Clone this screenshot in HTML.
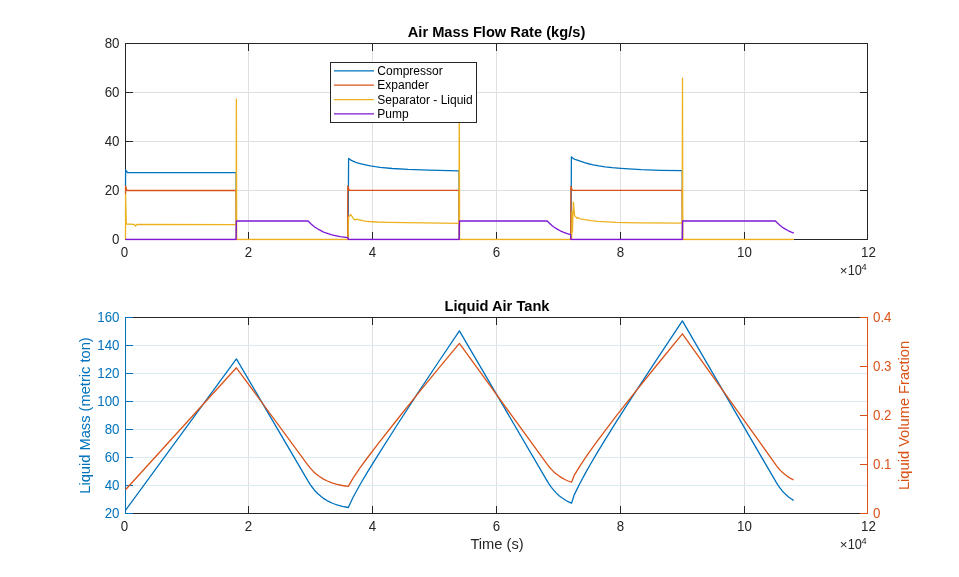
<!DOCTYPE html>
<html><head><meta charset="utf-8"><style>html,body{margin:0;padding:0;background:#fff;overflow:hidden}svg{display:block;will-change:transform}</style></head>
<body>
<svg width="959" height="577" viewBox="0 0 959 577">
<defs><clipPath id="c1"><rect x="124" y="43" width="745" height="197.5"/></clipPath><clipPath id="c2"><rect x="124" y="317" width="745" height="197.5"/></clipPath></defs>
<rect width="959" height="577" fill="#fff"/>
<line x1="248.5" y1="44" x2="248.5" y2="239" stroke="#DFDFDF"/>
<line x1="372.5" y1="44" x2="372.5" y2="239" stroke="#DFDFDF"/>
<line x1="496.5" y1="44" x2="496.5" y2="239" stroke="#DFDFDF"/>
<line x1="620.5" y1="44" x2="620.5" y2="239" stroke="#DFDFDF"/>
<line x1="744.5" y1="44" x2="744.5" y2="239" stroke="#DFDFDF"/>
<line x1="126" y1="190.5" x2="867" y2="190.5" stroke="#DFDFDF"/>
<line x1="126" y1="141.5" x2="867" y2="141.5" stroke="#DFDFDF"/>
<line x1="126" y1="92.5" x2="867" y2="92.5" stroke="#DFDFDF"/>
<rect x="125.5" y="43.5" width="742" height="196" fill="none" stroke="#262626" stroke-width="1"/>
<line x1="248.5" y1="44" x2="248.5" y2="51" stroke="#262626"/>
<line x1="248.5" y1="239" x2="248.5" y2="232" stroke="#262626"/>
<line x1="372.5" y1="44" x2="372.5" y2="51" stroke="#262626"/>
<line x1="372.5" y1="239" x2="372.5" y2="232" stroke="#262626"/>
<line x1="496.5" y1="44" x2="496.5" y2="51" stroke="#262626"/>
<line x1="496.5" y1="239" x2="496.5" y2="232" stroke="#262626"/>
<line x1="620.5" y1="44" x2="620.5" y2="51" stroke="#262626"/>
<line x1="620.5" y1="239" x2="620.5" y2="232" stroke="#262626"/>
<line x1="744.5" y1="44" x2="744.5" y2="51" stroke="#262626"/>
<line x1="744.5" y1="239" x2="744.5" y2="232" stroke="#262626"/>
<line x1="126" y1="190.5" x2="133" y2="190.5" stroke="#262626"/>
<line x1="867" y1="190.5" x2="860" y2="190.5" stroke="#262626"/>
<line x1="126" y1="141.5" x2="133" y2="141.5" stroke="#262626"/>
<line x1="867" y1="141.5" x2="860" y2="141.5" stroke="#262626"/>
<line x1="126" y1="92.5" x2="133" y2="92.5" stroke="#262626"/>
<line x1="867" y1="92.5" x2="860" y2="92.5" stroke="#262626"/>
<g clip-path="url(#c1)">
<path d="M125.5,186.0 L125.6,170.0 L127.5,172.6 L236.1,172.6 L236.4,239.5 M348.1,239.5 L348.6,158.5 L351.0,160.1 L353.5,161.4 L355.9,162.3 L358.3,163.1 L363.2,164.3 L370.4,165.9 L375.3,166.7 L380.1,167.3 L392.3,168.5 L408.0,169.4 L428.7,170.1 L459.0,170.9 L459.3,239.5 M571.0,239.5 L571.4,156.8 L572.6,158.0 L573.8,158.8 L575.0,159.3 L584.6,162.7 L589.5,164.0 L593.1,164.8 L599.1,165.9 L605.1,166.8 L612.3,167.6 L620.8,168.3 L641.3,169.6 L660.5,170.3 L682.2,170.7 L682.5,239.5" fill="none" stroke="#0072BD" stroke-width="1.3" stroke-linejoin="round"/>
<path d="M125.5,194.7 L125.6,186.0 L126.8,190.5 L236.1,190.5 L236.4,239.5 M347.7,239.5 L347.8,186.0 L349.2,190.4 L459.0,190.4 L459.3,239.5 M570.8,239.5 L570.9,186.3 L572.3,190.4 L682.2,190.4 L682.5,239.5" fill="none" stroke="#D95319" stroke-width="1.3" stroke-linejoin="round"/>
<path d="M125.5,239.5 L125.6,194.5 L126.3,224.0 L134.0,224.3 L135.5,226.0 L137.0,224.5 L236.1,224.6 L236.4,99.0 L236.7,239.5 L348.0,239.5 L348.5,217.2 L350.8,214.5 L352.9,217.9 L354.6,219.9 L356.9,219.2 L359.3,220.0 L362.9,220.7 L365.3,221.1 L368.9,221.5 L377.3,222.0 L388.1,222.3 L459.0,223.3 L459.3,90.0 L459.6,239.5 L571.0,239.5 L571.7,239.0 L571.9,212.0 L572.4,232.0 L573.4,202.1 L574.6,215.8 L576.0,217.0 L577.0,218.5 L578.0,217.6 L580.0,218.8 L584.8,219.7 L590.8,220.7 L598.0,221.3 L616.1,222.3 L625.7,222.6 L640.1,222.8 L682.2,223.2 L682.5,78.1 L682.8,239.5 L794.0,239.5" fill="none" stroke="#EDB120" stroke-width="1.3" stroke-linejoin="round"/>
<path d="M125.5,239.5 L236.1,239.5 L236.4,221.0 L308.1,221.0 L311.1,224.0 L313.1,225.7 L315.1,227.2 L317.1,228.5 L319.1,229.7 L323.1,231.8 L325.1,232.6 L328.1,233.7 L331.1,234.6 L334.1,235.4 L340.1,236.6 L347.9,237.7 L348.2,239.5 L459.2,239.5 L459.5,221.0 L547.2,221.0 L549.2,223.0 L552.2,225.7 L554.2,227.2 L557.2,229.1 L560.2,230.8 L563.2,232.2 L567.2,233.7 L570.6,234.7 L570.9,239.5 L682.3,239.5 L682.6,221.0 L775.4,221.0 L777.4,223.0 L779.4,224.8 L781.4,226.4 L783.4,227.9 L785.4,229.1 L788.4,230.8 L791.4,232.2 L793.8,233.1" fill="none" stroke="#7E16D4" stroke-width="1.3" stroke-linejoin="round"/>
</g>
<text x="119.5" y="244.30" text-anchor="end" font-size="13.9" textLength="7.41" lengthAdjust="spacingAndGlyphs" fill="#262626" font-family="Liberation Sans, sans-serif">0</text>
<text x="119.5" y="195.30" text-anchor="end" font-size="13.9" textLength="14.82" lengthAdjust="spacingAndGlyphs" fill="#262626" font-family="Liberation Sans, sans-serif">20</text>
<text x="119.5" y="146.30" text-anchor="end" font-size="13.9" textLength="14.82" lengthAdjust="spacingAndGlyphs" fill="#262626" font-family="Liberation Sans, sans-serif">40</text>
<text x="119.5" y="97.30" text-anchor="end" font-size="13.9" textLength="14.82" lengthAdjust="spacingAndGlyphs" fill="#262626" font-family="Liberation Sans, sans-serif">60</text>
<text x="119.5" y="48.30" text-anchor="end" font-size="13.9" textLength="14.82" lengthAdjust="spacingAndGlyphs" fill="#262626" font-family="Liberation Sans, sans-serif">80</text>
<text x="124.5" y="256.60" text-anchor="middle" font-size="13.9" textLength="7.41" lengthAdjust="spacingAndGlyphs" fill="#262626" font-family="Liberation Sans, sans-serif">0</text>
<text x="248.5" y="256.60" text-anchor="middle" font-size="13.9" textLength="7.41" lengthAdjust="spacingAndGlyphs" fill="#262626" font-family="Liberation Sans, sans-serif">2</text>
<text x="372.5" y="256.60" text-anchor="middle" font-size="13.9" textLength="7.41" lengthAdjust="spacingAndGlyphs" fill="#262626" font-family="Liberation Sans, sans-serif">4</text>
<text x="496.5" y="256.60" text-anchor="middle" font-size="13.9" textLength="7.41" lengthAdjust="spacingAndGlyphs" fill="#262626" font-family="Liberation Sans, sans-serif">6</text>
<text x="620.5" y="256.60" text-anchor="middle" font-size="13.9" textLength="7.41" lengthAdjust="spacingAndGlyphs" fill="#262626" font-family="Liberation Sans, sans-serif">8</text>
<text x="744.5" y="256.60" text-anchor="middle" font-size="13.9" textLength="14.82" lengthAdjust="spacingAndGlyphs" fill="#262626" font-family="Liberation Sans, sans-serif">10</text>
<text x="868.5" y="256.60" text-anchor="middle" font-size="13.9" textLength="14.82" lengthAdjust="spacingAndGlyphs" fill="#262626" font-family="Liberation Sans, sans-serif">12</text>
<text x="839.7" y="274.7" font-size="13.33" fill="#262626" font-family="Liberation Sans, sans-serif">&#215;</text><text x="847.7" y="274.7" font-size="13.9" textLength="14.2" lengthAdjust="spacingAndGlyphs" fill="#262626" font-family="Liberation Sans, sans-serif">10</text><text x="861.6" y="269.59999999999997" font-size="9.3" fill="#262626" font-family="Liberation Sans, sans-serif">4</text>
<text x="496.5" y="36.8" text-anchor="middle" font-size="14.67" font-weight="bold" fill="#000" font-family="Liberation Sans, sans-serif">Air Mass Flow Rate (kg/s)</text>
<rect x="330.5" y="62.5" width="146" height="60" fill="#fff" stroke="#262626" stroke-width="1"/>
<line x1="334" y1="70.9" x2="374" y2="70.9" stroke="#0072BD" stroke-width="1.3"/>
<text x="377.3" y="75.10" font-size="12" fill="#000" font-family="Liberation Sans, sans-serif">Compressor</text>
<line x1="334" y1="85.2" x2="374" y2="85.2" stroke="#D95319" stroke-width="1.3"/>
<text x="377.3" y="89.40" font-size="12" fill="#000" font-family="Liberation Sans, sans-serif">Expander</text>
<line x1="334" y1="99.6" x2="374" y2="99.6" stroke="#EDB120" stroke-width="1.3"/>
<text x="377.3" y="103.80" font-size="12" fill="#000" font-family="Liberation Sans, sans-serif">Separator - Liquid</text>
<line x1="334" y1="113.9" x2="374" y2="113.9" stroke="#7E16D4" stroke-width="1.3"/>
<text x="377.3" y="118.10" font-size="12" fill="#000" font-family="Liberation Sans, sans-serif">Pump</text>
<line x1="248.5" y1="318" x2="248.5" y2="513" stroke="#DFDFDF"/>
<line x1="372.5" y1="318" x2="372.5" y2="513" stroke="#DFDFDF"/>
<line x1="496.5" y1="318" x2="496.5" y2="513" stroke="#DFDFDF"/>
<line x1="620.5" y1="318" x2="620.5" y2="513" stroke="#DFDFDF"/>
<line x1="744.5" y1="318" x2="744.5" y2="513" stroke="#DFDFDF"/>
<line x1="126" y1="485.5" x2="867" y2="485.5" stroke="#D9EAF5"/>
<line x1="126" y1="457.5" x2="867" y2="457.5" stroke="#D9EAF5"/>
<line x1="126" y1="429.5" x2="867" y2="429.5" stroke="#D9EAF5"/>
<line x1="126" y1="401.5" x2="867" y2="401.5" stroke="#D9EAF5"/>
<line x1="126" y1="373.5" x2="867" y2="373.5" stroke="#D9EAF5"/>
<line x1="126" y1="345.5" x2="867" y2="345.5" stroke="#D9EAF5"/>
<line x1="125" y1="317.5" x2="868" y2="317.5" stroke="#262626"/>
<line x1="125" y1="513.5" x2="868" y2="513.5" stroke="#262626"/>
<line x1="125.5" y1="317" x2="125.5" y2="514" stroke="#0072BD"/>
<line x1="867.5" y1="317" x2="867.5" y2="514" stroke="#D95319"/>
<line x1="248.5" y1="318" x2="248.5" y2="325" stroke="#262626"/>
<line x1="248.5" y1="513" x2="248.5" y2="506" stroke="#262626"/>
<line x1="372.5" y1="318" x2="372.5" y2="325" stroke="#262626"/>
<line x1="372.5" y1="513" x2="372.5" y2="506" stroke="#262626"/>
<line x1="496.5" y1="318" x2="496.5" y2="325" stroke="#262626"/>
<line x1="496.5" y1="513" x2="496.5" y2="506" stroke="#262626"/>
<line x1="620.5" y1="318" x2="620.5" y2="325" stroke="#262626"/>
<line x1="620.5" y1="513" x2="620.5" y2="506" stroke="#262626"/>
<line x1="744.5" y1="318" x2="744.5" y2="325" stroke="#262626"/>
<line x1="744.5" y1="513" x2="744.5" y2="506" stroke="#262626"/>
<line x1="125" y1="317.5" x2="133" y2="317.5" stroke="#0072BD"/>
<line x1="125" y1="513.5" x2="133" y2="513.5" stroke="#0072BD"/>
<line x1="860" y1="317.5" x2="868" y2="317.5" stroke="#D95319"/>
<line x1="860" y1="513.5" x2="868" y2="513.5" stroke="#D95319"/>
<text x="119.5" y="518.30" text-anchor="end" font-size="13.9" textLength="14.82" lengthAdjust="spacingAndGlyphs" fill="#0072BD" font-family="Liberation Sans, sans-serif">20</text>
<line x1="126" y1="485.5" x2="133" y2="485.5" stroke="#0072BD"/>
<text x="119.5" y="490.30" text-anchor="end" font-size="13.9" textLength="14.82" lengthAdjust="spacingAndGlyphs" fill="#0072BD" font-family="Liberation Sans, sans-serif">40</text>
<line x1="126" y1="457.5" x2="133" y2="457.5" stroke="#0072BD"/>
<text x="119.5" y="462.30" text-anchor="end" font-size="13.9" textLength="14.82" lengthAdjust="spacingAndGlyphs" fill="#0072BD" font-family="Liberation Sans, sans-serif">60</text>
<line x1="126" y1="429.5" x2="133" y2="429.5" stroke="#0072BD"/>
<text x="119.5" y="434.30" text-anchor="end" font-size="13.9" textLength="14.82" lengthAdjust="spacingAndGlyphs" fill="#0072BD" font-family="Liberation Sans, sans-serif">80</text>
<line x1="126" y1="401.5" x2="133" y2="401.5" stroke="#0072BD"/>
<text x="119.5" y="406.30" text-anchor="end" font-size="13.9" textLength="22.23" lengthAdjust="spacingAndGlyphs" fill="#0072BD" font-family="Liberation Sans, sans-serif">100</text>
<line x1="126" y1="373.5" x2="133" y2="373.5" stroke="#0072BD"/>
<text x="119.5" y="378.30" text-anchor="end" font-size="13.9" textLength="22.23" lengthAdjust="spacingAndGlyphs" fill="#0072BD" font-family="Liberation Sans, sans-serif">120</text>
<line x1="126" y1="345.5" x2="133" y2="345.5" stroke="#0072BD"/>
<text x="119.5" y="350.30" text-anchor="end" font-size="13.9" textLength="22.23" lengthAdjust="spacingAndGlyphs" fill="#0072BD" font-family="Liberation Sans, sans-serif">140</text>
<text x="119.5" y="322.30" text-anchor="end" font-size="13.9" textLength="22.23" lengthAdjust="spacingAndGlyphs" fill="#0072BD" font-family="Liberation Sans, sans-serif">160</text>
<text x="873" y="518.40" font-size="13.9" textLength="7.41" lengthAdjust="spacingAndGlyphs" fill="#D95319" font-family="Liberation Sans, sans-serif">0</text>
<line x1="867" y1="464.5" x2="860" y2="464.5" stroke="#D95319"/>
<text x="873" y="469.40" font-size="13.9" textLength="18.53" lengthAdjust="spacingAndGlyphs" fill="#D95319" font-family="Liberation Sans, sans-serif">0.1</text>
<line x1="867" y1="415.5" x2="860" y2="415.5" stroke="#D95319"/>
<text x="873" y="420.40" font-size="13.9" textLength="18.53" lengthAdjust="spacingAndGlyphs" fill="#D95319" font-family="Liberation Sans, sans-serif">0.2</text>
<line x1="867" y1="366.5" x2="860" y2="366.5" stroke="#D95319"/>
<text x="873" y="371.40" font-size="13.9" textLength="18.53" lengthAdjust="spacingAndGlyphs" fill="#D95319" font-family="Liberation Sans, sans-serif">0.3</text>
<text x="873" y="322.40" font-size="13.9" textLength="18.53" lengthAdjust="spacingAndGlyphs" fill="#D95319" font-family="Liberation Sans, sans-serif">0.4</text>
<g clip-path="url(#c2)">
<path d="M125.5,510.3 L236.4,358.9 L308.1,481.1 L310.1,484.3 L312.4,487.5 L314.1,489.7 L315.9,491.7 L317.6,493.5 L319.4,495.1 L321.1,496.6 L323.1,498.1 L325.1,499.4 L327.4,500.8 L329.6,501.9 L331.9,503.0 L334.4,504.0 L336.9,504.8 L342.4,506.3 L348.3,507.5 L353.1,497.3 L359.8,485.0 L367.6,471.9 L378.6,454.1 L396.8,425.5 L417.3,393.9 L437.8,363.0 L459.4,330.9 L547.1,480.8 L549.1,484.1 L551.4,487.3 L553.9,490.4 L556.4,493.1 L559.1,495.7 L561.9,497.8 L564.9,499.8 L568.1,501.7 L571.5,503.2 L572.2,501.3 L574.2,494.9 L576.8,489.6 L580.0,483.2 L585.0,473.9 L590.0,465.0 L596.5,453.9 L603.8,441.9 L616.5,421.4 L634.5,393.4 L656.5,359.8 L682.4,320.9 L776.4,482.7 L778.1,485.4 L780.1,488.2 L782.1,490.7 L784.4,493.1 L786.6,495.3 L788.9,497.2 L791.1,498.8 L793.6,500.4" fill="none" stroke="#0072BD" stroke-width="1.3" stroke-linejoin="round"/>
<path d="M125.5,489.8 L236.4,367.8 L308.1,465.3 L310.1,467.9 L312.4,470.4 L314.1,472.2 L315.9,473.8 L319.4,476.5 L323.1,478.9 L327.4,481.0 L331.9,482.8 L336.9,484.3 L342.4,485.5 L348.3,486.4 L353.1,478.2 L359.8,468.2 L367.6,457.5 L378.6,443.1 L396.8,420.0 L417.3,394.4 L437.8,369.4 L459.4,343.4 L547.1,464.2 L549.1,466.8 L551.4,469.4 L553.9,471.9 L556.4,474.1 L559.1,476.1 L561.9,477.9 L564.9,479.5 L568.1,481.0 L571.5,482.2 L572.2,480.6 L574.2,475.4 L576.8,471.1 L580.0,465.9 L585.0,458.4 L590.0,451.1 L596.5,442.1 L603.8,432.3 L616.5,415.6 L634.5,392.8 L656.5,365.5 L682.4,333.8 L776.4,465.6 L778.1,467.8 L780.1,470.1 L782.1,472.1 L784.4,474.1 L786.6,475.8 L788.9,477.4 L791.1,478.7 L793.6,480.0" fill="none" stroke="#D95319" stroke-width="1.3" stroke-linejoin="round"/>
</g>
<text x="124.5" y="530.60" text-anchor="middle" font-size="13.9" textLength="7.41" lengthAdjust="spacingAndGlyphs" fill="#262626" font-family="Liberation Sans, sans-serif">0</text>
<text x="248.5" y="530.60" text-anchor="middle" font-size="13.9" textLength="7.41" lengthAdjust="spacingAndGlyphs" fill="#262626" font-family="Liberation Sans, sans-serif">2</text>
<text x="372.5" y="530.60" text-anchor="middle" font-size="13.9" textLength="7.41" lengthAdjust="spacingAndGlyphs" fill="#262626" font-family="Liberation Sans, sans-serif">4</text>
<text x="496.5" y="530.60" text-anchor="middle" font-size="13.9" textLength="7.41" lengthAdjust="spacingAndGlyphs" fill="#262626" font-family="Liberation Sans, sans-serif">6</text>
<text x="620.5" y="530.60" text-anchor="middle" font-size="13.9" textLength="7.41" lengthAdjust="spacingAndGlyphs" fill="#262626" font-family="Liberation Sans, sans-serif">8</text>
<text x="744.5" y="530.60" text-anchor="middle" font-size="13.9" textLength="14.82" lengthAdjust="spacingAndGlyphs" fill="#262626" font-family="Liberation Sans, sans-serif">10</text>
<text x="868.5" y="530.60" text-anchor="middle" font-size="13.9" textLength="14.82" lengthAdjust="spacingAndGlyphs" fill="#262626" font-family="Liberation Sans, sans-serif">12</text>
<text x="839.7" y="548.7" font-size="13.33" fill="#262626" font-family="Liberation Sans, sans-serif">&#215;</text><text x="847.7" y="548.7" font-size="13.9" textLength="14.2" lengthAdjust="spacingAndGlyphs" fill="#262626" font-family="Liberation Sans, sans-serif">10</text><text x="861.6" y="543.6" font-size="9.3" fill="#262626" font-family="Liberation Sans, sans-serif">4</text>
<text x="497" y="548.8" text-anchor="middle" font-size="14.67" fill="#262626" font-family="Liberation Sans, sans-serif">Time (s)</text>
<text x="497" y="310.9" text-anchor="middle" font-size="14.67" font-weight="bold" fill="#000" font-family="Liberation Sans, sans-serif">Liquid Air Tank</text>
<text transform="translate(89.7,415.5) rotate(-90)" text-anchor="middle" font-size="14.67" fill="#0072BD" font-family="Liberation Sans, sans-serif">Liquid Mass (metric ton)</text>
<text transform="translate(908.8,415.5) rotate(-90)" text-anchor="middle" font-size="14.67" fill="#D95319" font-family="Liberation Sans, sans-serif">Liquid Volume Fraction</text>
</svg>
</body></html>
